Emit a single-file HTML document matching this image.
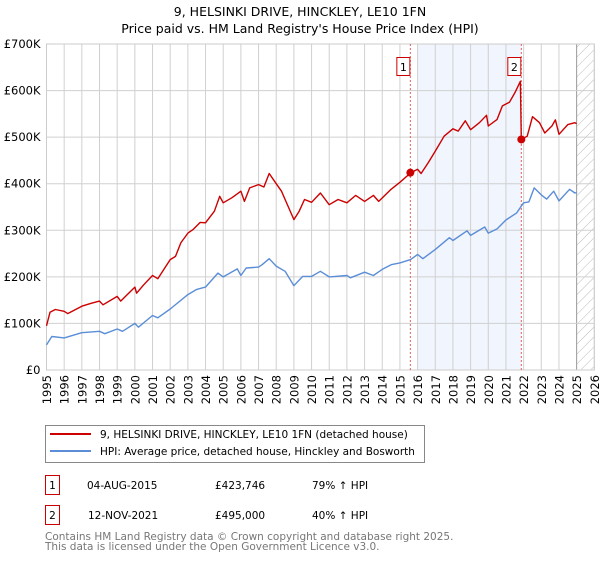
<!DOCTYPE html>
<html><head><meta charset="utf-8"><style>
body{margin:0;background:#fff;font-family:"Liberation Sans","DejaVu Sans",sans-serif;}
svg text{font-family:"DejaVu Sans","Liberation Sans",sans-serif;}
</style></head><body>
<svg width="600" height="560" xmlns="http://www.w3.org/2000/svg">
<text x="300" y="16" text-anchor="middle" font-size="12.5">9, HELSINKI DRIVE, HINCKLEY, LE10 1FN</text>
<text x="300" y="33" text-anchor="middle" font-size="12.5">Price paid vs. HM Land Registry's House Price Index (HPI)</text>
<g id="plot"></g>
<g>
<rect x="45.5" y="425.5" width="379" height="37" fill="#fff" stroke="#888"/>
<line x1="50" y1="434" x2="91" y2="434" stroke="#cc0000" stroke-width="2"/>
<text x="100" y="438" font-size="10.5">9, HELSINKI DRIVE, HINCKLEY, LE10 1FN (detached house)</text>
<line x1="50" y1="451" x2="91" y2="451" stroke="#5b8ed6" stroke-width="2"/>
<text x="100" y="455" font-size="10.5">HPI: Average price, detached house, Hinckley and Bosworth</text>
</g>
<g font-size="10.5">
<rect x="45.5" y="475.5" width="14" height="19" fill="#fff" stroke="#cc0000"/>
<text x="52.5" y="489" text-anchor="middle">1</text>
<text x="87" y="489">04-AUG-2015</text><text x="215" y="489">£423,746</text><text x="312" y="489">79% ↑ HPI</text>
<rect x="45.5" y="505.5" width="14" height="19" fill="#fff" stroke="#cc0000"/>
<text x="52.5" y="519" text-anchor="middle">2</text>
<text x="88" y="519">12-NOV-2021</text><text x="215" y="519">£495,000</text><text x="312" y="519">40% ↑ HPI</text>
</g>
<text x="45" y="540" font-size="10.5" fill="#777">Contains HM Land Registry data © Crown copyright and database right 2025.</text>
<text x="45" y="550" font-size="10.5" fill="#777">This data is licensed under the Open Government Licence v3.0.</text>
</svg>
<script>
const redYears=[1995,1995.2,1995.5,1996,1996.2,1997,1997.5,1998,1998.2,1999,1999.2,2000,2000.1,2000.5,2001,2001.3,2002,2002.3,2002.6,2003,2003.3,2003.7,2004,2004.5,2004.8,2005,2005.5,2006,2006.2,2006.5,2007,2007.3,2007.6,2008,2008.3,2008.5,2009,2009.3,2009.6,2010,2010.5,2011,2011.5,2012,2012.5,2013,2013.5,2013.8,2014.5,2015,2015.6,2016,2016.2,2016.6,2017,2017.5,2018,2018.3,2018.7,2019,2019.5,2019.9,2020,2020.5,2020.8,2021.2,2021.5,2021.82,2021.87,2022.2,2022.5,2022.9,2023.2,2023.6,2023.8,2024,2024.5,2024.9,2025];
const redValues=[95,124,130,126,121,137,143,148,140,158,148,178,165,183,203,196,237,244,273,294,302,317,316,341,373,359,370,384,362,391,398,393,422,400,384,366,323,341,366,360,380,355,366,359,375,362,375,362,388,403,423,431,422,445,470,502,518,513,535,516,531,547,524,538,567,575,595,620,495,502,544,531,509,524,537,506,527,531,529];
const hpiYears=[1995,1995.3,1996,1997,1998,1998.3,1999,1999.3,2000,2000.2,2001,2001.3,2002,2003,2003.5,2004,2004.7,2005,2005.8,2006,2006.3,2007,2007.2,2007.6,2008,2008.5,2009,2009.5,2010,2010.5,2011,2012,2012.2,2013,2013.5,2014,2014.5,2015,2015.6,2016,2016.3,2017,2017.8,2018,2018.8,2019,2019.8,2020,2020.5,2021,2021.6,2022,2022.3,2022.6,2023,2023.3,2023.7,2024,2024.6,2024.9,2025];
const hpiValues=[54,72,69,80,83,78,88,83,100,92,117,112,131,162,173,178,208,200,217,203,219,221,226,239,223,212,181,201,201,212,200,203,198,210,203,216,226,230,237,248,239,259,284,278,299,289,307,294,303,322,337,359,361,391,376,367,384,363,388,380,381];
const saleYears=[2015.59,2021.87];
const saleValues=[423.746,495];
const saleLabels=["1","2"];
const yTicks=[0,100,200,300,400,500,600,700];
const yTickLabels=["£0","£100K","£200K","£300K","£400K","£500K","£600K","£700K"];
const xTicks=[1995,1996,1997,1998,1999,2000,2001,2002,2003,2004,2005,2006,2007,2008,2009,2010,2011,2012,2013,2014,2015,2016,2017,2018,2019,2020,2021,2022,2023,2024,2025,2026];

const NS="http://www.w3.org/2000/svg";
const X0=46.5,X1=594.3,Y0=370,Y1=44;
const xs=y=>X0+(y-1995)*(X1-X0)/31;
const ys=v=>Y0-v*(Y0-Y1)/700;
const g=document.getElementById('plot');
function mk(t,a){const e=document.createElementNS(NS,t);for(const k in a)e.setAttribute(k,a[k]);g.appendChild(e);return e;}
let e=mk('rect',{x:xs(2016),y:Y1,width:xs(saleYears[1])-xs(2016),height:Y0-Y1,fill:'#f1f5fd'});


const defs=document.createElementNS(NS,'defs');
defs.innerHTML='<pattern id="hatch" width="7" height="7" patternUnits="userSpaceOnUse" patternTransform="rotate(45)"><line x1="0" y1="0" x2="0" y2="7" stroke="#bbb" stroke-width="1"/></pattern>';
g.appendChild(defs);
e=mk('rect',{x:xs(2025),y:Y1,width:X1-xs(2025),height:Y0-Y1,fill:'url(#hatch)'});


xTicks.forEach(t=>{
 let l=mk('line',{x1:xs(t),x2:xs(t),y1:Y1,y2:Y0,stroke:t===2025?'#999':'#d0d0d0'});
 
 
 let tx=mk('text',{x:0,y:0,'text-anchor':'end','font-size':'11.5',transform:'translate('+(xs(t)+4.5)+','+(Y0+5)+') rotate(-90)'});
 tx.textContent=t;
 
 
});
yTicks.forEach((t,i)=>{
 let l=mk('line',{x1:X0,x2:X1,y1:ys(t),y2:ys(t),stroke:'#d0d0d0'});
 
 
 let tx=mk('text',{x:X0-6,y:ys(t)+4,'text-anchor':'end','font-size':'11.5'});
 tx.textContent=yTickLabels[i];
 
 
});
e=mk('rect',{x:X0,y:Y1,width:X1-X0,height:Y0-Y1,fill:'none',stroke:'#ccc'});


saleYears.forEach((s,i)=>{
 let l=mk('line',{x1:xs(s),x2:xs(s),y1:Y1,y2:Y0,stroke:'#e06060','stroke-dasharray':'2,2'});
 
 
 let r=mk('rect',{x:xs(s)-13.5,y:57.5,width:13,height:18,fill:'#fff',stroke:'#cc0000'});
 
 
 let t=mk('text',{x:xs(s)-7,y:71,'text-anchor':'middle','font-size':'11'});
 t.textContent=saleLabels[i];
 
 
});
function path(yr,vals,col,name){
 let d=yr.map((y,i)=>(i?'L':'M')+xs(y).toFixed(1)+','+ys(vals[i]).toFixed(1)).join('');
 let p=mk('path',{d:d,fill:'none',stroke:col,'stroke-width':'1.4','stroke-linejoin':'round'});
 
 
}
path(hpiYears,hpiValues,'#5b8ed6','hpi-line');
path(redYears,redValues,'#cc0000','property-price-line');
saleYears.forEach((s,i)=>{
 let c=mk('circle',{cx:xs(s),cy:ys(saleValues[i]),r:4,fill:'#cc0000'});
 
 
});
</script>
</body></html>
